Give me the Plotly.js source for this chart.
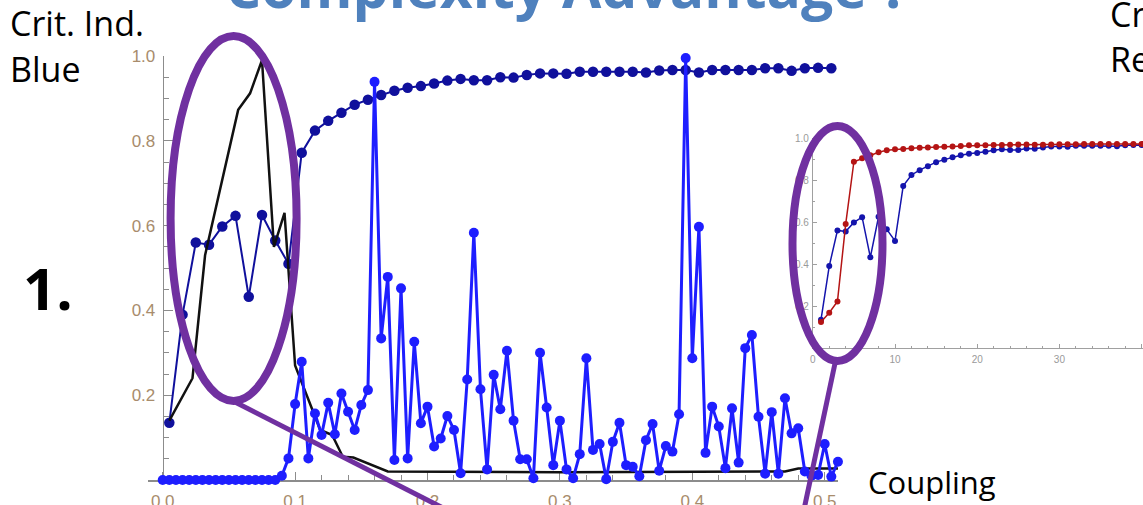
<!DOCTYPE html>
<html><head><meta charset="utf-8">
<script src="https://cdn.plot.ly/plotly-3.0.1.min.js"></script>
<style>html,body{margin:0;padding:0;background:#fff;overflow:hidden}#chart{width:1143px;height:505px}</style>
</head><body><div id="chart"></div>
<script>
// ---------- DATA ----------
// Main plot: critical index vs coupling
// Dark navy series (one point per 0.01 of coupling, starting at 0.005); also the blue curve of the inset (vs index)
const navyY = [0.135,0.39,0.56,0.555,0.598,0.623,0.432,0.625,0.565,0.51,
  0.772,0.824,0.847,0.866,0.885,0.897,0.908,0.918,0.925,0.929,
  0.935,0.942,0.946,0.943,0.943,0.95,0.949,0.955,0.959,0.959,
  0.958,0.963,0.963,0.963,0.963,0.963,0.961,0.966,0.967,0.967,
  0.961,0.967,0.967,0.967,0.967,0.971,0.971,0.965,0.971,0.972,0.971];
const navyStep = 0.01, navyStart = 0.005;

// Bright blue series (one point per 0.005 of coupling, from 0)
const brightY = [0,0,0,0,0,0,0,0,0,0,0,0,0,0,0,0,0,0,
  0.01,0.051,0.179,0.279,0.051,0.157,0.106,0.182,0.108,0.204,0.161,0.118,
  0.177,0.212,0.939,0.334,0.479,0.047,0.452,0.051,0.326,0.134,
  0.173,0.079,0.098,0.151,0.118,0.016,0.237,0.583,0.214,0.025,
  0.248,0.167,0.305,0.14,0.049,0.049,0.004,0.3,0.171,0.035,
  0.14,0.025,0.004,0.061,0.287,0.071,0.085,0.002,0.09,0.135,
  0.035,0.031,0.009,0.094,0.132,0.022,0.08,0.067,0.155,0.995,
  0.287,0.597,0.064,0.173,0.126,0.028,0.169,0.041,0.311,0.342,
  0.149,0.015,0.16,0.015,0.193,0.11,0.122,0.02,0.01,0.012,
  0.085,0.008,0.043];
const brightStep = 0.005;

// Black line
const blackX = [0.005,0.0225,0.032,0.057,0.066,0.075,0.084,0.092,0.1,0.119,0.128,0.136,0.144,0.17,0.3,0.47,0.48,0.51];
const blackY = [0.14,0.24,0.53,0.873,0.912,0.99,0.55,0.63,0.27,0.118,0.106,0.055,0.053,0.02,0.018,0.02,0.027,0.027];

// Inset: red series vs index
const redY = [0.124,0.168,0.222,0.59,0.887,0.903,0.918,0.932,0.942,0.946,
  0.948,0.951,0.953,0.955,0.957,0.958,0.96,0.962,0.965,0.966,
  0.966,0.967,0.967,0.968,0.969,0.969,0.968,0.968,0.969,0.97,
  0.97,0.97,0.971,0.971,0.971,0.971,0.972,0.972,0.972,0.972,0.972];

// Tick labels
const mainXTicks = [0,0.1,0.2,0.3,0.4,0.5];
const mainXText = ['0.0','0.1','0.2','0.3','0.4','0.5'];
const yTicks = [0.2,0.4,0.6,0.8,1.0];
const yText = ['0.2','0.4','0.6','0.8','1.0'];
const insetXTicks = [0,10,20,30,40];
const insetXText = ['0','10','20','30','40'];

// ---------- LAYOUT HELPERS ----------
const W = 1143, H = 505;
const px = p => p / W;
const py = p => 1 - p / H;

const navyX = navyY.map((_, i) => navyStart + i * navyStep);
const brightX = brightY.map((_, i) => i * brightStep);
const insetIdx = navyY.map((_, i) => i + 1);
const redIdx = redY.map((_, i) => i + 1);

// main axes geometry
const x0px = 162.7, pxPerUnit = 1324;
const mainXRange = [(148 - x0px) / pxPerUnit, (838 - x0px) / pxPerUnit];
const mainDomX = [px(148), px(838)];
const yAxisPos = px(x0px);

const axisCol = '#8c8c8c';
const tickFont = {family: 'Liberation Sans, Arial, sans-serif', size: 17, color: '#a88c6c'};
const insetFont = {family: 'Liberation Sans, Arial, sans-serif', size: 10, color: '#9a9a9a'};

const traces = [
  {x: navyX, y: navyY, xaxis: 'x', yaxis: 'y', mode: 'lines+markers', cliponaxis: false,
   line: {color: '#10109c', width: 2}, marker: {color: '#10109c', size: 10.5}},
  {x: blackX, y: blackY, xaxis: 'x', yaxis: 'y', mode: 'lines', cliponaxis: false,
   line: {color: '#111111', width: 2.5}},
  {x: brightX, y: brightY, xaxis: 'x', yaxis: 'y', mode: 'lines+markers', cliponaxis: false,
   line: {color: '#1e1eff', width: 3}, marker: {color: '#1e1eff', size: 10}},
  {x: insetIdx, y: navyY, xaxis: 'x2', yaxis: 'y2', mode: 'lines+markers',
   line: {color: '#1414ac', width: 1.5}, marker: {color: '#1414ac', size: 6}},
  {x: redIdx, y: redY, xaxis: 'x2', yaxis: 'y2', mode: 'lines+markers',
   line: {color: '#b41414', width: 1.5}, marker: {color: '#b41414', size: 6}}
];

const purple = '#7030a0';
const layout = {
  width: W, height: H, showlegend: false,
  margin: {l: 0, r: 0, t: 0, b: 0, pad: 0, autoexpand: false},
  paper_bgcolor: '#ffffff', plot_bgcolor: 'rgba(0,0,0,0)',
  xaxis: {domain: mainDomX, range: mainXRange, anchor: 'y', showgrid: false, zeroline: false,
    showline: true, linecolor: axisCol, linewidth: 1.5, layer: 'below traces',
    tickmode: 'array', tickvals: mainXTicks, ticktext: mainXText,
    ticks: 'inside', ticklen: 8, tickcolor: axisCol, tickwidth: 1, tickfont: tickFont, ticklabelstandoff: 5,
    minor: {tickmode: 'linear', tick0: 0, dtick: 0.02, ticks: 'inside', ticklen: 5, tickcolor: axisCol, showgrid: false}},
  yaxis: {domain: [py(480), py(56)], range: [0, 1], anchor: 'free', position: yAxisPos,
    showgrid: false, zeroline: false, showline: true, linecolor: axisCol, linewidth: 1.5, layer: 'below traces',
    tickmode: 'array', tickvals: yTicks, ticktext: yText,
    ticks: 'inside', ticklen: 9, tickcolor: axisCol, tickwidth: 1, tickfont: tickFont, ticklabelstandoff: 4,
    minor: {tickmode: 'linear', tick0: 0, dtick: 0.05, ticks: 'inside', ticklen: 5, tickcolor: axisCol, showgrid: false}},
  xaxis2: {domain: [px(812.8), 1], range: [0, (W - 812.8) / 8.22], anchor: 'y2', showgrid: false, zeroline: false,
    showline: true, linecolor: '#a0a0a0', linewidth: 1, layer: 'below traces',
    tickmode: 'array', tickvals: insetXTicks, ticktext: insetXText,
    ticks: 'inside', ticklen: 4, tickcolor: '#a0a0a0', tickfont: insetFont, ticklabelstandoff: 2,
    minor: {tickmode: 'linear', tick0: 0, dtick: 2, ticks: 'inside', ticklen: 2.5, tickcolor: '#a0a0a0', showgrid: false}},
  yaxis2: {domain: [py(348), py(138)], range: [0, 1], anchor: 'x2', showgrid: false, zeroline: false,
    showline: true, linecolor: '#a0a0a0', linewidth: 1, layer: 'below traces',
    tickmode: 'array', tickvals: yTicks, ticktext: yText,
    ticks: 'inside', ticklen: 4, tickcolor: '#a0a0a0', tickfont: insetFont, ticklabelstandoff: 1,
    minor: {tickmode: 'linear', tick0: 0, dtick: 0.1, ticks: 'inside', ticklen: 2.5, tickcolor: '#a0a0a0', showgrid: false}},
  shapes: [
    {type: 'circle', xref: 'paper', yref: 'paper', x0: px(233.6 - 63), x1: px(233.6 + 63), y0: py(401), y1: py(36),
     line: {color: purple, width: 8}, layer: 'above'},
    {type: 'line', xref: 'paper', yref: 'paper', x0: px(233), y0: py(401), x1: px(447), y1: py(510),
     line: {color: purple, width: 5}, layer: 'above'},
    {type: 'circle', xref: 'paper', yref: 'paper', x0: px(837.5 - 45), x1: px(837.5 + 45), y0: py(361), y1: py(126),
     line: {color: purple, width: 8}, layer: 'above'},
    {type: 'line', xref: 'paper', yref: 'paper', x0: px(835.5), y0: py(361), x1: px(803.9), y1: py(510),
     line: {color: purple, width: 5}, layer: 'above'}
  ],
  annotations: [
    {text: '<b>Complexity Advantage ?</b>', xref: 'paper', yref: 'paper', x: px(567), y: py(-14),
     xanchor: 'center', yanchor: 'middle', showarrow: false,
     font: {family: 'Open Sans, sans-serif', size: 57, color: '#4f81bd'}},
    {text: 'Crit. Ind.', xref: 'paper', yref: 'paper', x: px(8), y: py(23), xanchor: 'left', yanchor: 'middle', showarrow: false,
     font: {family: 'Open Sans, sans-serif', size: 34, color: '#000'}},
    {text: 'Blue', xref: 'paper', yref: 'paper', x: px(8), y: py(69), xanchor: 'left', yanchor: 'middle', showarrow: false,
     font: {family: 'Open Sans, sans-serif', size: 34, color: '#000'}},
    {text: '<b>1.</b>', xref: 'paper', yref: 'paper', x: px(21), y: py(287), xanchor: 'left', yanchor: 'middle', showarrow: false,
     font: {family: 'Open Sans, sans-serif', size: 58, color: '#000'}},
    {text: 'Coupling', xref: 'paper', yref: 'paper', x: px(866), y: py(482), xanchor: 'left', yanchor: 'middle', showarrow: false,
     font: {family: 'Open Sans, sans-serif', size: 31, color: '#000'}},
    {text: 'Crit. Ind.', xref: 'paper', yref: 'paper', x: px(1108), y: py(14), xanchor: 'left', yanchor: 'middle', showarrow: false,
     font: {family: 'Open Sans, sans-serif', size: 34, color: '#000'}},
    {text: 'Red', xref: 'paper', yref: 'paper', x: px(1108), y: py(59), xanchor: 'left', yanchor: 'middle', showarrow: false,
     font: {family: 'Open Sans, sans-serif', size: 34, color: '#000'}}
  ]
};

Plotly.newPlot('chart', traces, layout, {staticPlot: true, displayModeBar: false});
</script></body></html>
